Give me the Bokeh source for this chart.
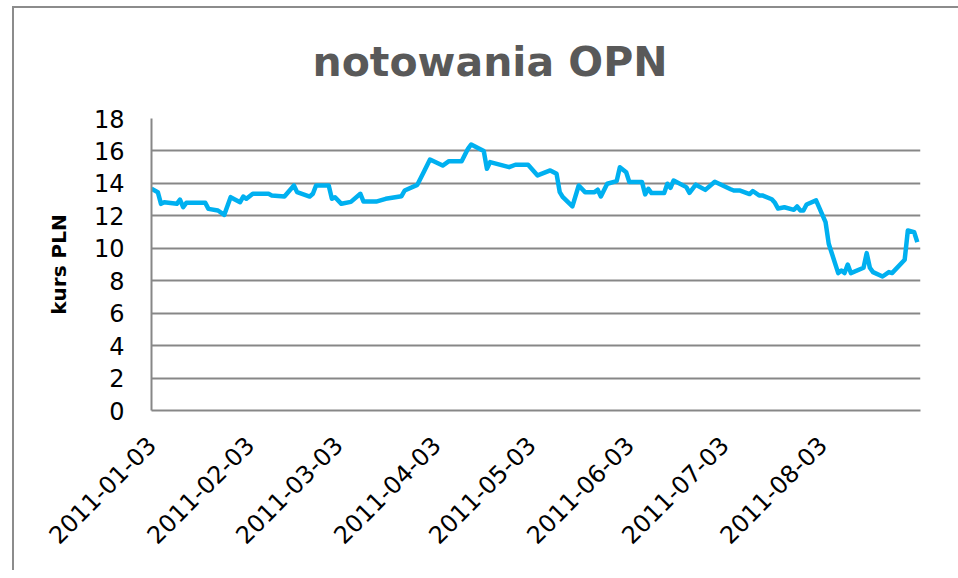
import pandas as pd
from bokeh.plotting import figure
from bokeh.models import Range1d, FixedTicker, DatetimeTickFormatter
from bokeh.embed import file_html
from bokeh.resources import INLINE
from math import pi

title_text = "notowania OPN"
y_label = "kurs PLN"

dates = [
    "2011-01-03", "2011-01-05", "2011-01-06", "2011-01-07", "2011-01-11", "2011-01-12",
    "2011-01-13", "2011-01-14", "2011-01-20", "2011-01-21", "2011-01-24", "2011-01-26",
    "2011-01-28", "2011-01-31", "2011-02-01", "2011-02-02", "2011-02-04", "2011-02-09",
    "2011-02-10", "2011-02-14", "2011-02-17", "2011-02-18", "2011-02-22", "2011-02-23",
    "2011-02-24", "2011-02-28", "2011-03-01", "2011-03-02", "2011-03-04", "2011-03-07",
    "2011-03-10", "2011-03-11", "2011-03-15", "2011-03-18", "2011-03-21", "2011-03-23",
    "2011-03-24", "2011-03-28", "2011-03-30", "2011-04-01", "2011-04-05", "2011-04-07",
    "2011-04-11", "2011-04-13", "2011-04-14", "2011-04-18", "2011-04-19", "2011-04-20",
    "2011-04-26", "2011-04-28", "2011-05-02", "2011-05-05", "2011-05-09", "2011-05-11",
    "2011-05-12", "2011-05-13", "2011-05-16", "2011-05-18", "2011-05-20", "2011-05-23",
    "2011-05-24", "2011-05-25", "2011-05-27", "2011-05-30", "2011-05-31", "2011-06-02",
    "2011-06-03", "2011-06-07", "2011-06-08", "2011-06-09", "2011-06-10", "2011-06-14",
    "2011-06-15", "2011-06-16", "2011-06-17", "2011-06-21", "2011-06-22", "2011-06-24",
    "2011-06-27", "2011-06-30", "2011-07-05", "2011-07-06", "2011-07-08", "2011-07-11",
    "2011-07-12", "2011-07-14", "2011-07-15", "2011-07-18", "2011-07-19", "2011-07-20",
    "2011-07-22", "2011-07-25", "2011-07-26", "2011-07-27", "2011-07-28", "2011-07-29",
    "2011-08-01", "2011-08-04", "2011-08-05", "2011-08-08", "2011-08-09", "2011-08-10",
    "2011-08-11", "2011-08-12", "2011-08-16", "2011-08-17", "2011-08-18", "2011-08-19",
    "2011-08-22", "2011-08-24", "2011-08-25", "2011-08-29", "2011-08-30", "2011-09-01",
    "2011-09-02",
]

prices = [
    13.67, 13.46, 12.74, 12.84, 12.74, 13.00,
    12.53, 12.80, 12.80, 12.43, 12.33, 12.06,
    13.15, 12.84, 13.19, 13.05, 13.36, 13.36,
    13.26, 13.19, 13.87, 13.46, 13.19, 13.36,
    13.87, 13.87, 13.05, 13.15, 12.74, 12.86,
    13.36, 12.88, 12.88, 13.05, 13.15, 13.21,
    13.56, 13.91, 14.69, 15.47, 15.10, 15.37,
    15.37, 16.13, 16.40, 15.99, 14.90, 15.31,
    15.00, 15.15, 15.15, 14.49, 14.80, 14.59,
    13.46, 13.15, 12.58, 13.87, 13.46, 13.46,
    13.61, 13.19, 13.98, 14.14, 15.00, 14.69,
    14.08, 14.08, 13.32, 13.67, 13.40, 13.40,
    13.98, 13.73, 14.18, 13.77, 13.42, 13.92,
    13.60, 14.10, 13.64, 13.56, 13.56, 13.34,
    13.53, 13.26, 13.26, 13.02, 12.80, 12.45,
    12.53, 12.37, 12.58, 12.33, 12.33, 12.70,
    12.95, 11.61, 10.28, 8.47, 8.63, 8.47,
    9.00, 8.47, 8.80, 9.70, 8.80, 8.53,
    8.26, 8.53, 8.47, 9.29, 11.10, 10.99,
    10.38,
]

tick_dates = ["2011-01-03", "2011-02-03", "2011-03-03", "2011-04-03",
              "2011-05-03", "2011-06-03", "2011-07-03", "2011-08-03"]
y_ticks = [0, 2, 4, 6, 8, 10, 12, 14, 16, 18]

x = pd.to_datetime(dates)
tick_ms = [float(t.value // 10**6) for t in pd.to_datetime(tick_dates)]

p = figure(width=958, height=570, output_backend="svg", toolbar_location=None,
           x_axis_type="datetime",
           x_range=Range1d(pd.Timestamp("2011-01-03"), pd.Timestamp("2011-09-03")),
           y_range=Range1d(0, 18),
           min_border_left=151, min_border_right=38, min_border_top=118, min_border_bottom=160)

# chart-area frame (left and top edges) drawn behind a transparent canvas border
p.border_fill_color = None
p.background_fill_color = "white"
p.styles = {
    "background-color": "white",
    "background-image": "linear-gradient(#8c8c8c, #8c8c8c), linear-gradient(#8c8c8c, #8c8c8c)",
    "background-position": "12px 6px, 12px 6px",
    "background-size": "2px 2000px, 2000px 2px",
    "background-repeat": "no-repeat, no-repeat",
}

p.title.text = title_text
p.title.text_font = "DejaVu Sans"
p.title.text_font_size = "41px"
p.title.text_font_style = "bold"
p.title.text_color = "#595959"
p.title.align = "left"
p.title.offset = 161
p.title.standoff = 66

p.line(x, prices, line_color="#00B0F0", line_width=4.5, line_join="round")

p.outline_line_color = None
p.xgrid.grid_line_color = None
p.ygrid.grid_line_color = "#878787"
p.ygrid.grid_line_width = 2
p.ygrid.ticker = FixedTicker(ticks=y_ticks)

ya = p.yaxis[0]
ya.ticker = FixedTicker(ticks=y_ticks)
ya.axis_line_color = "#878787"
ya.axis_line_width = 2
ya.major_tick_line_color = None
ya.minor_tick_line_color = None
ya.major_label_text_font = "DejaVu Sans"
ya.major_label_text_font_size = "24px"
ya.major_label_text_color = "#000000"
ya.major_label_standoff = 21
ya.axis_label = y_label
ya.axis_label_text_font = "DejaVu Sans"
ya.axis_label_text_font_size = "20px"
ya.axis_label_text_font_style = "bold"
ya.axis_label_text_color = "#000000"
ya.axis_label_standoff = 20

xa = p.xaxis[0]
xa.ticker = FixedTicker(ticks=tick_ms)
fmt = "%Y-%m-%d"
xa.formatter = DatetimeTickFormatter(days=fmt, months=fmt, years=fmt, hours=fmt,
                                     hourmin=fmt, minutes=fmt, minsec=fmt, seconds=fmt,
                                     milliseconds=fmt, microseconds=fmt)
xa.axis_line_color = "#878787"
xa.axis_line_width = 2
xa.major_tick_line_color = None
xa.minor_tick_line_color = None
xa.major_label_orientation = pi / 4
xa.major_label_text_font = "DejaVu Sans"
xa.major_label_text_font_size = "24px"
xa.major_label_text_color = "#000000"
xa.major_label_standoff = 24

open("out.html", "w").write(file_html(p, INLINE))
